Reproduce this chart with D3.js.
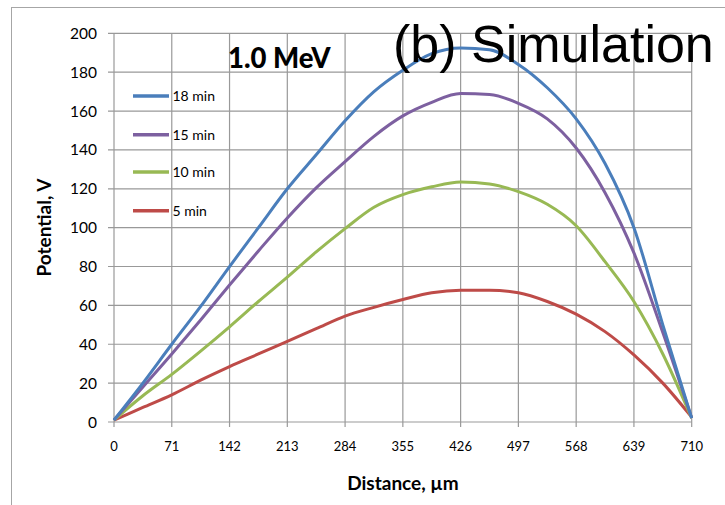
<!DOCTYPE html>
<html><head><meta charset="utf-8">
<script src="https://cdn.jsdelivr.net/npm/d3@7"></script>
<style>body{margin:0;background:#fff;} svg{display:block;}</style>
</head><body>
<svg id="c" width="725" height="505"></svg>
<script>
const distance = [0, 35.5, 71, 106.5, 142, 177.5, 213, 248.5, 284, 319.5, 355, 390.5, 426, 461.5, 497, 532.5, 568, 603.5, 639, 674.5, 710];
const v18 = [1, 20, 40, 59.5, 80, 100, 120, 137.5, 155, 170, 181, 189.5, 192.5, 191.5, 184, 172, 156, 133, 100, 50, 2];
const v15 = [1, 18, 35, 52.5, 70.5, 88, 105, 120.5, 134, 147, 157.5, 164.5, 169, 168.5, 164, 156, 141, 118, 87, 46, 2];
const v10 = [1, 13.5, 24.5, 36.5, 49, 62, 74.5, 87.5, 99.5, 110.5, 117, 121, 123.5, 122.5, 118.5, 112, 101, 82.5, 62, 35, 2];
const v5  = [1, 7.5, 14, 21.5, 28.5, 35, 41.5, 48, 54.5, 59, 63, 66.5, 67.8, 67.8, 66.5, 62, 55.5, 46.5, 34.5, 20, 2.5];
const seriesNames = ["18 min", "15 min", "10 min", "5 min"];
const seriesColors = ["#4a7ebb", "#7d60a0", "#98b954", "#be4b48"];
const xTicks = [0, 71, 142, 213, 284, 355, 426, 497, 568, 639, 710];
const yTicks = [0, 20, 40, 60, 80, 100, 120, 140, 160, 180, 200];

const svg = d3.select("#c");
const L = 114, R = 691.7, T = 33.3, B = 422;
const x = d3.scaleLinear().domain([0, 710]).range([L, R]);
const y = d3.scaleLinear().domain([0, 200]).range([B, T]);
const font = "Lato, 'Open Sans', sans-serif";

// outer frame
svg.append("rect").attr("x", 11.5).attr("y", 7.5).attr("width", 800).attr("height", 600)
  .attr("fill", "none").attr("stroke", "#a6a6a6").attr("stroke-width", 1);

// gridlines
const grid = svg.append("g").attr("stroke", "#999").attr("stroke-width", 1.2);
yTicks.forEach(t => grid.append("line").attr("x1", L - 6).attr("x2", R).attr("y1", y(t)).attr("y2", y(t)));
xTicks.forEach(t => grid.append("line").attr("x1", x(t)).attr("x2", x(t)).attr("y1", T).attr("y2", B + 5));

// tick labels
svg.append("g").selectAll("text").data(yTicks).join("text")
  .attr("x", 97).attr("y", d => y(d) + 5.5).attr("text-anchor", "end")
  .attr("font-family", font).attr("font-size", 15.5).attr("fill", "#000").text(d => d);
svg.append("g").selectAll("text").data(xTicks).join("text")
  .attr("x", d => x(d)).attr("y", 451).attr("text-anchor", "middle")
  .attr("font-family", font).attr("font-size", 13).attr("fill", "#000").text(d => d);

// axis titles
svg.append("text").attr("x", 403).attr("y", 490).attr("text-anchor", "middle")
  .attr("font-family", font).attr("font-weight", "bold").attr("font-size", 19).text("Distance, µm");
svg.append("text").attr("transform", "translate(51,227.5) rotate(-90)").attr("text-anchor", "middle")
  .attr("font-family", font).attr("font-weight", "bold").attr("font-size", 19).text("Potential, V");

// lines
const seriesData = [v18, v15, v10, v5];
const line = d3.line().x((d, i) => x(distance[i])).y(d => y(d)).curve(d3.curveMonotoneX);
seriesData.slice().reverse().forEach((s, k) => {
  const idx = seriesData.length - 1 - k;
  svg.append("path").datum(s).attr("d", line).attr("fill", "none")
    .attr("stroke", seriesColors[idx]).attr("stroke-width", 3).attr("stroke-linejoin", "round");
});

// legend
const legY = [96, 134.7, 172, 210.7];
seriesNames.forEach((n, i) => {
  svg.append("line").attr("x1", 133).attr("x2", 169).attr("y1", legY[i]).attr("y2", legY[i])
    .attr("stroke", seriesColors[i]).attr("stroke-width", 3.5);
  svg.append("text").attr("x", 172.5).attr("y", legY[i] + 5).attr("font-family", font)
    .attr("font-size", 14).attr("fill", "#000").text(n);
});

// titles
svg.append("text").attr("x", 228).attr("y", 68).attr("font-family", font).attr("font-weight", "900")
  .attr("font-size", 27.5).attr("fill", "#000").text("1.0 MeV");
svg.append("text").attr("x", 393).attr("y", 62).attr("font-family", "'Liberation Sans', Arial, sans-serif")
  .attr("font-size", 52).attr("fill", "#000").text("(b) Simulation");
</script>
</body></html>
